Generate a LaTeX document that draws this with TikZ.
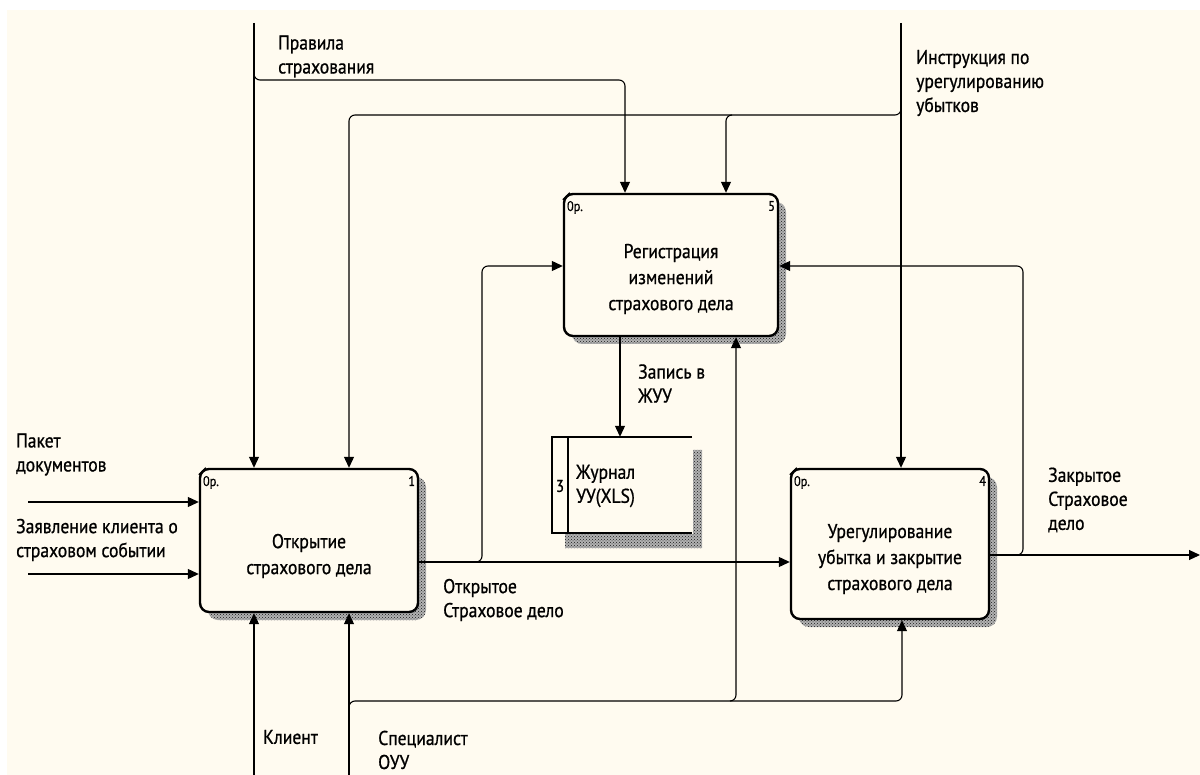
\documentclass[tikz,border=0pt]{standalone}
\usepackage{fontspec}
\setmainfont{PT Sans}[FakeStretch=0.88,FakeBold=0.8]
\usetikzlibrary{arrows.meta,patterns}
\definecolor{paper}{RGB}{255,251,240}
\tikzset{
	flow/.style={line width=1.1pt,rounded corners=6pt},
	arr/.style={flow,-{Triangle[length=11pt,width=10pt]}},
	procbox/.style={draw,line width=2.4pt,rounded corners=9pt,fill=paper,inner sep=0pt},
	boxshadow/.style={fill=black!30,postaction={pattern=crosshatch dots,pattern color=black!90}},
	lbl/.style={align=left,anchor=west,inner sep=0pt,font=\fontsize{20}{24}\selectfont},
	ptext/.style={align=center,inner sep=0pt,font=\fontsize{20}{26}\selectfont},
	tag/.style={inner sep=0pt,font=\fontsize{14}{14}\selectfont},
}
\begin{document}
\begin{tikzpicture}[x=1pt,y=-1pt]
		\useasboundingbox (0,0) rectangle (1200,775);
		\fill[white] (0,0) rectangle (1200,775);
		\fill[paper] (7,10) rectangle (1200,775);

		\def\procbox(#1)(#2,#3,#4,#5)#6{%
			\fill[boxshadow,rounded corners=10pt] (#2+8,#3+8) rectangle (#4+8,#5+8);
			\node[procbox,minimum width=#4-#2,minimum height=#5-#3] (#1) at ({(#2+#4)/2},{(#3+#5)/2}) {};
			\draw[line width=1.4pt] ([yshift=-7pt]#1.north west) -- ([xshift=7pt]#1.north west);
			\node[tag,anchor=north west] at ([xshift=4pt,yshift=-8pt]#1.north west) {0р.};
			\node[tag,anchor=north east] at ([xshift=-4pt,yshift=-8pt]#1.north east) {#6};}%
		\procbox(b1)(200,469,418,612){1}
		\procbox(b5)(564,194,778,336){5}
		\procbox(b4)(791,469,989,619){4}
		\node[ptext] (t1) at (309,556) {Открытие\\страхового дела};
		\node[ptext] (t5) at (671,279) {Регистрация\\изменений\\страхового дела};
		\node[ptext] (t4) at (890,559) {Урегулирование\\убытка и закрытие\\страхового дела};

		% data store
		\fill[boxshadow] (693,450) -- (702,450) -- (702,548) -- (565,548) -- (565,534) -- (693,534) -- cycle;
		\node[minimum width=140,minimum height=96,inner sep=0pt] (st) at (622,485) {};
		\draw[line width=2.4pt] (st.north east) -- (st.north west) -- (st.south west) -- (st.south east);
		\draw[line width=1.6pt] ([xshift=16pt]st.north west) -- ([xshift=16pt]st.south west);
		\node[tag,font=\fontsize{17}{17}\selectfont] (stnum) at (560,486) {3};
		\node[lbl] (ljour) at (576,486) {Журнал\\УУ(XLS)};

		% free ends and bends
		\coordinate (rulesTop) at (254,23);
		\coordinate (rulesJ) at (254,80);
		\coordinate (rulesBr) at (625,80);
		\coordinate (instrTop) at (901,23);
		\coordinate (instrJ) at (901,115);
		\coordinate (instrL) at (349,115);
		\coordinate (instrM) at (726,115);
		\coordinate (pkgIn) at (28,502);
		\coordinate (appIn) at (28,574);
		\coordinate (openJ) at (482,562);
		\coordinate (openUp) at (482,266);
		\coordinate (closedJ) at (1023,555);
		\coordinate (closedUp) at (1023,266);
		\coordinate (closedOut) at (1200,555);
		\coordinate (recX) at (620,400);
		\coordinate (clientIn) at (254,775);
		\coordinate (specIn) at (349,775);
		\coordinate (specJ) at (349,701);
		\coordinate (specM) at (736,701);
		\coordinate (specR) at (902,701);

		% controls
		\draw[arr] (rulesTop) -- (rulesTop |- b1.north);
		\draw[arr] ([yshift=6pt]rulesJ) -- (rulesJ) -- (rulesBr) -- (rulesBr |- b5.north);
		\draw[arr] (instrTop) -- (instrTop |- b4.north);
		\draw[arr] ([yshift=6pt]instrJ) -- (instrJ) -- (instrL) -- (instrL |- b1.north);
		\draw[arr] ([xshift=6pt]instrM) -- (instrM) -- (instrM |- b5.north);
		% inputs and outputs
		\draw[arr] (pkgIn) -- (pkgIn -| b1.west);
		\draw[arr] (appIn) -- (appIn -| b1.west);
		\draw[arr] (openJ -| b1.east) -- (openJ -| b4.west);
		\draw[arr] ([xshift=-6pt]openJ) -- (openJ) -- (openUp) -- (openUp -| b5.west);
		\draw[arr] (closedJ -| b4.east) -- (closedOut);
		\draw[arr] ([xshift=-6pt]closedJ) -- (closedJ) -- (closedUp) -- (closedUp -| b5.east);
		\draw[arr] (recX |- b5.south) -- (recX |- st.north);
		% mechanisms
		\draw[arr] (clientIn) -- (clientIn |- b1.south);
		\draw[arr] (specIn) -- (specIn |- b1.south);
		\draw[arr] ([yshift=-6pt]specJ) -- (specJ) -- (specR) -- (specR |- b4.south);
		\draw[arr] ([xshift=-6pt]specM) -- (specM) -- (specM |- b5.south);

		% arrow labels
		\node[lbl] (lrules) at (278,56.5) {Правила\\страхования};
		\node[lbl] (linstr) at (916,83) {Инструкция по\\урегулированию\\убытков};
		\node[lbl] (lpkg) at (16,454.5) {Пакет\\документов};
		\node[lbl] (lapp) at (16,540) {Заявление клиента о\\страховом событии};
		\node[lbl] (lopen) at (443,600) {Открытое\\Страховое дело};
		\node[lbl] (lrec) at (638,383.5) {Запись в\\ЖУУ};
		\node[lbl] (lclosed) at (1048,500) {Закрытое\\Страховое\\дело};
		\node[lbl] (lclient) at (263,737) {Клиент};
		\node[lbl] (lspec) at (378,750) {Специалист\\ОУУ};
\end{tikzpicture}
\end{document}
